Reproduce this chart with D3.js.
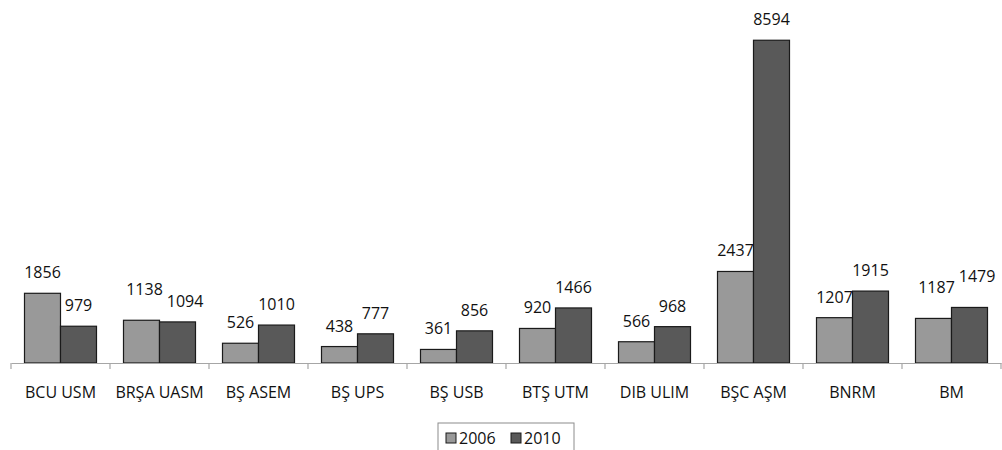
<!DOCTYPE html>
<html>
<head>
<meta charset="utf-8">
<script src="https://cdn.jsdelivr.net/npm/d3@7"></script>
<style>
  html, body { margin: 0; padding: 0; background: #fff; }
  svg text { font-family: "Open Sans", "Noto Sans", sans-serif; fill: #111; }
</style>
</head>
<body>
<svg id="chart" width="1002" height="450"></svg>
<script>
// Categories along the x axis
const categories = ["BCU USM", "BRŞA UASM", "BŞ ASEM", "BŞ UPS", "BŞ USB",
                    "BTŞ UTM", "DIB ULIM", "BŞC AŞM", "BNRM", "BM"];
// Series values
const values2006 = [1856, 1138, 526, 438, 361, 920, 566, 2437, 1207, 1187];
const values2010 = [979, 1094, 1010, 777, 856, 1466, 968, 8594, 1915, 1479];
const seriesNames = ["2006", "2010"];
const seriesColors = ["#999999", "#595959"];

const svg = d3.select("#chart");

const x = d3.scaleBand()
  .domain(categories)
  .range([11, 1001])
  .paddingInner(0)
  .paddingOuter(0);

const xInner = d3.scaleBand()
  .domain(seriesNames)
  .range([0, x.bandwidth()])
  .paddingInner(0)
  .paddingOuter(0.375);

const y = d3.scaleLinear()
  .domain([0, 9000])
  .range([363, 25]);

const rows = categories.map((c, i) => ({
  cat: c,
  vals: [
    { s: seriesNames[0], v: values2006[i], color: seriesColors[0] },
    { s: seriesNames[1], v: values2010[i], color: seriesColors[1] }
  ]
}));

// Bars with value labels
const groups = svg.append("g").selectAll("g")
  .data(rows)
  .join("g")
  .attr("transform", d => `translate(${x(d.cat)},0)`);

groups.selectAll("rect")
  .data(d => d.vals)
  .join("rect")
  .attr("x", d => xInner(d.s))
  .attr("y", d => y(d.v))
  .attr("width", xInner.bandwidth())
  .attr("height", d => y(0) - y(d.v))
  .attr("fill", d => d.color)
  .attr("stroke", "#1a1a1a")
  .attr("stroke-width", 1.2);

groups.selectAll("text")
  .data(d => d.vals)
  .join("text")
  .attr("x", d => xInner(d.s) + xInner.bandwidth() / 2)
  .attr("y", d => y(d.v) - 15)
  .attr("text-anchor", "middle")
  .attr("font-size", 16)
  .text(d => d.v);

// Pull apart value labels that would touch each other within a group:
// lift the left one (and the right one too when its bar is taller),
// then push the right one clear of the left one.
groups.each(function (row) {
  const labels = d3.select(this).selectAll("text").nodes();
  if (labels.length < 2) return;
  const a = labels[0].getBBox(), b = labels[1].getBBox();
  const hOverlap = a.x + a.width + 3 > b.x;
  const vOverlap = a.y < b.y + b.height && b.y < a.y + a.height;
  if (!(hOverlap && vOverlap)) return;
  const first = d3.select(labels[0]), second = d3.select(labels[1]);
  first.attr("x", +first.attr("x") + 3).attr("y", +first.attr("y") - 10);
  if (row.vals[1].v > row.vals[0].v) second.attr("y", +second.attr("y") - 10);
  const gap = 4;
  const shift = (a.x + 3 + a.width + gap) - b.x;
  if (shift > 0) second.attr("x", +second.attr("x") + shift);
});

// Category axis
const xAxis = d3.axisBottom(x)
  .tickSize(6)
  .tickSizeOuter(0)
  .tickFormat("");

const axisG = svg.append("g")
  .attr("transform", `translate(0,${y(0)})`)
  .call(xAxis);
axisG.select(".domain").attr("stroke", "#a6a6a6").attr("stroke-width", 1.2);
axisG.selectAll(".tick").remove();

// Tick marks at category boundaries
const boundaries = categories.map(c => x(c)).concat([x.range()[1]]);
axisG.selectAll("line.bound")
  .data(boundaries)
  .join("line")
  .attr("class", "bound")
  .attr("x1", d => d).attr("x2", d => d)
  .attr("y1", 0).attr("y2", 6)
  .attr("stroke", "#a6a6a6")
  .attr("stroke-width", 1.2);

axisG.selectAll("text.cat")
  .data(categories)
  .join("text")
  .attr("class", "cat")
  .attr("x", d => x(d) + x.bandwidth() / 2)
  .attr("y", 35)
  .attr("text-anchor", "middle")
  .attr("font-size", 16)
  .text(d => d);

// Legend
const legend = svg.append("g").attr("transform", "translate(438,423)");
legend.append("rect")
  .attr("x", 0).attr("y", 0)
  .attr("width", 136).attr("height", 40)
  .attr("fill", "#fff")
  .attr("stroke", "#8c8c8c")
  .attr("stroke-width", 1);

const items = legend.selectAll("g.item")
  .data(seriesNames)
  .join("g")
  .attr("class", "item")
  .attr("transform", (d, i) => `translate(${8 + i * 65},10)`);
items.append("rect")
  .attr("width", 10).attr("height", 10)
  .attr("fill", (d, i) => seriesColors[i])
  .attr("stroke", "#1a1a1a")
  .attr("stroke-width", 1);
items.append("text")
  .attr("x", 13).attr("y", 10.5)
  .attr("font-size", 16)
  .text(d => d);
</script>
</body>
</html>
